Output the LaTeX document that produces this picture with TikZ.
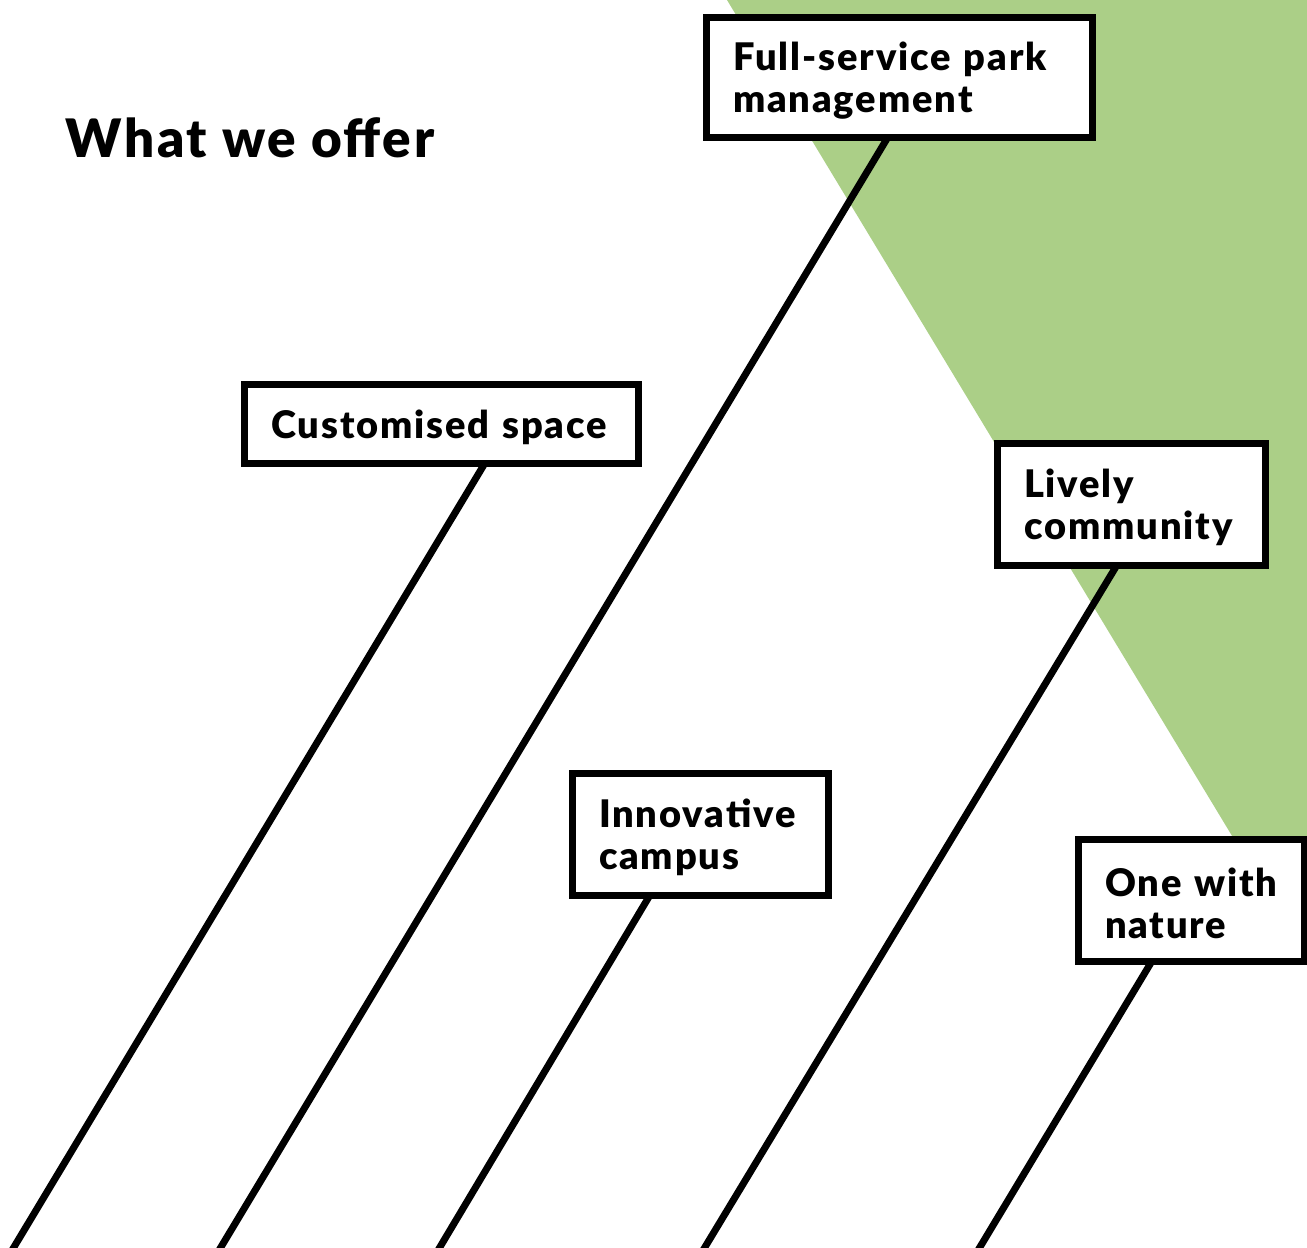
\documentclass[tikz,border=0pt]{standalone}
\usepackage{fontspec}
\setmainfont{Lato}[BoldFont={Lato Black}, BoldFeatures={LetterSpace=5}]
\usetikzlibrary{positioning}
\definecolor{leafgreen}{RGB}{171,207,135}

\begin{document}
\begin{tikzpicture}[x=1pt, y=-1pt, thick,
    box/.style={draw, line width=7pt, fill=white, anchor=north west, outer sep=0pt,
      inner xsep=27pt, inner ysep=0pt, align=left,
      font=\fontsize{38}{42}\selectfont\bfseries,
      execute at begin node={\rule{0pt}{0.95em}}},
    leg/.style={draw, line width=7pt}]
  \useasboundingbox (0,0) rectangle (1307,1248);
  % green wedge behind the boxes
  \fill[leafgreen] (727,0) -- (1307,0) -- (1307,960) -- cycle;

  \node[anchor=base west, font=\fontsize{53}{60}\selectfont\bfseries] (title) at (62,157) {What we offer};

  \node[box, minimum width=386pt, minimum height=120pt, text width=332pt] (fs) at (706,17)
    {Full-service~park\\management};
  \node[box, minimum width=394pt, minimum height=79pt, text width=340pt] (cs) at (244,384)
    {Customised~space};
  \node[box, minimum width=268pt, minimum height=122pt, text width=214pt] (lc) at (997,443)
    {Lively\\community};
  \node[box, minimum width=256pt, minimum height=122pt, text width=202pt] (ic) at (572,773)
    {Innovative\\campus};
  \node[box, minimum width=226pt, minimum height=122pt, text width=172pt] (on) at (1078,839)
    {One~with\\nature};

  % loose ends at the bottom edge
  \coordinate (cs-end) at (11,1252);
  \coordinate (fs-end) at (218,1252);
  \coordinate (ic-end) at (437,1252);
  \coordinate (lc-end) at (702,1252);
  \coordinate (on-end) at (977,1252);

  \draw[leg] ([xshift=241pt]cs.south west) -- (cs-end);
  \draw[leg] ([xshift=182pt]fs.south west) -- (fs-end);
  \draw[leg] ([xshift=78pt]ic.south west) -- (ic-end);
  \draw[leg] ([xshift=120pt]lc.south west) -- (lc-end);
  \draw[leg] ([xshift=74pt]on.south west) -- (on-end);
\end{tikzpicture}
\end{document}
